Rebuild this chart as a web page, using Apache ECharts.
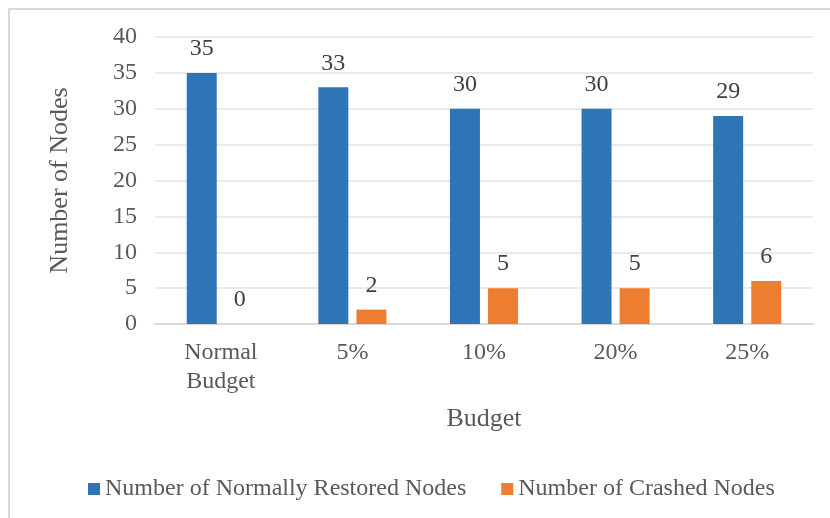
<!DOCTYPE html>
<html>
<head>
<meta charset="utf-8">
<script src="https://cdn.jsdelivr.net/npm/echarts@6/dist/echarts.min.js"></script>
<style>
  html, body { margin: 0; padding: 0; background: #fff; }
  #frame {
    position: absolute; left: 8px; top: 8px;
    width: 840px; height: 530px;
    border-left: 2px solid #d9d9d9; border-top: 2px solid #d9d9d9;
  }
  #chart { position: absolute; left: 0; top: 0; width: 830px; height: 518px; }
</style>
</head>
<body>
<div id="frame"></div>
<div id="chart"></div>
<script>
  var categories = ['Normal\nBudget', '5%', '10%', '20%', '25%'];
  var restored = [35, 33, 30, 30, 29];
  var crashed = [0, 2, 5, 5, 6];
  var seriesNames = ['Number of Normally Restored Nodes', 'Number of Crashed Nodes'];
  var colors = ['#2e75b6', '#ed7d31'];

  var font = '"Liberation Serif", "Times New Roman", serif';
  var chart = echarts.init(document.getElementById('chart'));
  chart.setOption({
    animation: false,
    color: colors,
    textStyle: { fontFamily: font },
    grid: { left: 155, right: 17, top: 37, bottom: 194 },
    legend: {
      data: seriesNames,
      bottom: 12,
      left: 83,
      itemWidth: 12,
      itemHeight: 12,
      itemGap: 35,
      icon: 'rect',
      textStyle: { fontFamily: font, fontSize: 24, color: '#595959' }
    },
    xAxis: {
      type: 'category',
      data: categories,
      name: 'Budget',
      nameLocation: 'middle',
      nameGap: 82,
      nameTextStyle: { fontFamily: font, fontSize: 26, color: '#595959' },
      axisLine: { lineStyle: { color: '#d9d9d9', width: 2 } },
      axisTick: { show: false },
      axisLabel: { fontFamily: font, fontSize: 24, color: '#595959', margin: 14, lineHeight: 29 }
    },
    yAxis: {
      type: 'value',
      min: 0,
      max: 40,
      interval: 5,
      name: 'Number of Nodes',
      nameLocation: 'middle',
      nameGap: 82,
      nameTextStyle: { fontFamily: font, fontSize: 26, color: '#595959' },
      axisLine: { show: false },
      axisTick: { show: false },
      splitLine: { lineStyle: { color: '#e3e3e3', width: 1.5 } },
      axisLabel: { fontFamily: font, fontSize: 24, color: '#595959', margin: 18 }
    },
    series: [
      {
        name: seriesNames[0],
        type: 'bar',
        data: restored,
        barWidth: 30,
        barGap: '27%',
        label: { show: true, position: 'top', distance: 12, fontFamily: font, fontSize: 24, color: '#404040' }
      },
      {
        name: seriesNames[1],
        type: 'bar',
        data: crashed,
        barWidth: 30,
        label: { show: true, position: 'top', distance: 12, fontFamily: font, fontSize: 24, color: '#404040' }
      }
    ]
  });
</script>
</body>
</html>
